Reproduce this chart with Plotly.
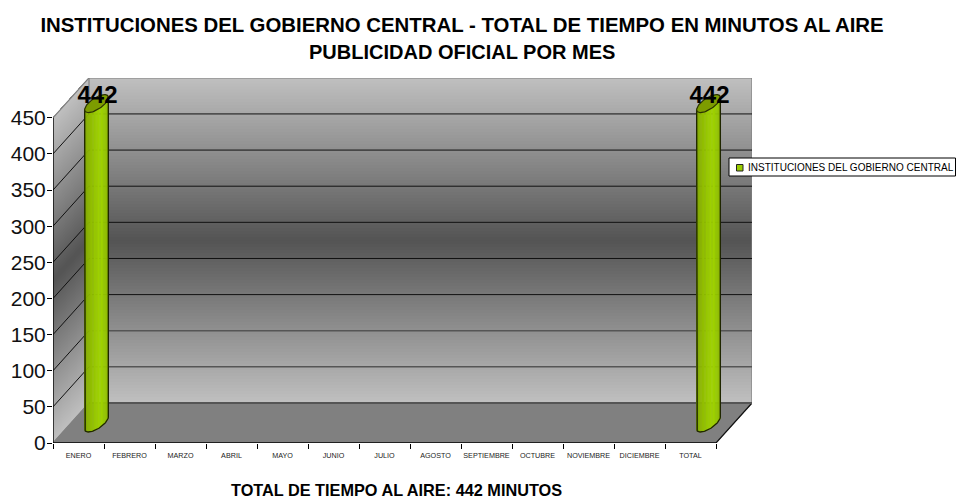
import math
import plotly.graph_objects as go

CATEGORIES = ["ENERO", "FEBRERO", "MARZO", "ABRIL", "MAYO", "JUNIO", "JULIO", "AGOSTO",
              "SEPTIEMBRE", "OCTUBRE", "NOVIEMBRE", "DICIEMBRE", "TOTAL"]
VALUES = [442, 0, 0, 0, 0, 0, 0, 0, 0, 0, 0, 0, 442]
Y_TICKS = [0, 50, 100, 150, 200, 250, 300, 350, 400, 450]
SERIES = "INSTITUCIONES DEL GOBIERNO CENTRAL"
TITLE_1 = "INSTITUCIONES DEL GOBIERNO CENTRAL - TOTAL DE TIEMPO EN MINUTOS AL AIRE"
TITLE_2 = "PUBLICIDAD OFICIAL POR MES"
FOOTER = "TOTAL DE TIEMPO AL AIRE: 442 MINUTOS"

W, H = 956, 498
ML, MR, MT, MB = 53, 204, 78, 55
PW, PH = W - ML - MR, H - MT - MB
N = len(CATEGORIES)
UX = 51.0
DX = 36 / UX            # depth vector in data units
YMAX_FRONT = 450
UY = (443 - 117.8) / YMAX_FRONT
DY = 40 / UY
X0, X1 = -0.5, N - 0.5
FONT = "Liberation Sans, Arial, sans-serif"


def lerp(a, b, t):
    return a + (b - a) * t


def rgb(c):
    return f"rgb({c[0]:.0f},{c[1]:.0f},{c[2]:.0f})"


def wall_color(t):
    """t=0 bottom of wall, t=1 top of wall: light, dark in the middle, light."""
    light_bot, dark, light_top = (192, 192, 192), (84, 84, 84), (192, 192, 192)
    if t < 0.5:
        s = t / 0.5
        return tuple(lerp(light_bot[i], dark[i], s) for i in range(3))
    s = (t - 0.5) / 0.5
    return tuple(lerp(dark[i], light_top[i], s) for i in range(3))


def poly(pts):
    return "M" + " L".join(f"{x:.4f},{y:.3f}" for x, y in pts) + " Z"


def px(x):
    return (x - ML) / PW


def py(y):
    return (443 - y) / PH


shapes = []
BANDS = 108
for k in range(BANDS):
    a = k / BANDS
    ya = a * YMAX_FRONT
    yt = YMAX_FRONT
    col = rgb(wall_color((k + 0.5) / BANDS))
    # each band runs up to the wall top and is overpainted by the next: no seams
    shapes.append(dict(type="path", layer="below", line=dict(width=0), fillcolor=col,
                       path=poly([(X0 + DX, ya + DY), (X1 + DX, ya + DY), (X1 + DX, yt + DY), (X0 + DX, yt + DY)])))
    shapes.append(dict(type="path", layer="below", line=dict(width=0), fillcolor=col,
                       path=poly([(X0, ya), (X0 + DX, ya + DY), (X0 + DX, yt + DY), (X0, yt)])))

# floor
shapes.append(dict(type="path", layer="below", fillcolor="#808080", line=dict(color="#808080", width=1),
                   path=poly([(X0, 0), (X1, 0), (X1 + DX, DY), (X0 + DX, DY)])))

# wall outline
GRAY = "#808080"
for p, q in [((X0 + DX, DY), (X0 + DX, YMAX_FRONT + DY)),
             ((X0 + DX, YMAX_FRONT + DY), (X1 + DX, YMAX_FRONT + DY)),
             ((X1 + DX, YMAX_FRONT + DY), (X1 + DX, DY)),
             ((X0, YMAX_FRONT), (X0 + DX, YMAX_FRONT + DY)),
             ((X0, 0), (X0 + DX, DY))]:
    shapes.append(dict(type="line", layer="below", x0=p[0], y0=p[1], x1=q[0], y1=q[1],
                       line=dict(color=GRAY, width=1.2)))
shapes.append(dict(type="line", layer="below", x0=X1, y0=0, x1=X1 + DX, y1=DY, line=dict(color="#111", width=1.2)))
shapes.append(dict(type="line", layer="below", x0=X0 + DX, y0=DY, x1=X1 + DX, y1=DY, line=dict(color="#555", width=2)))

# gridlines on walls
for v in Y_TICKS[1:-1]:
    c, w = ("#555", 1.5) if v <= 100 else ("#111", 1)
    shapes.append(dict(type="line", layer="below", x0=X0, y0=v, x1=X0 + DX, y1=v + DY, line=dict(color="#111", width=1)))
    shapes.append(dict(type="line", layer="below", x0=X0 + DX, y0=v + DY, x1=X1 + DX, y1=v + DY, line=dict(color=c, width=w)))

# axis lines
shapes.append(dict(type="line", layer="above", x0=X0, y0=0, x1=X1, y1=0, line=dict(color="#000", width=1.4)))
shapes.append(dict(type="line", layer="above", x0=X0, y0=0, x1=X0, y1=YMAX_FRONT, line=dict(color="#000", width=1.4)))

# legend box and swatch
shapes.append(dict(type="rect", xref="paper", yref="paper", layer="above",
                   x0=px(729), x1=px(955.5), y0=py(176), y1=py(158),
                   fillcolor="white", line=dict(color="#000", width=1)))
shapes.append(dict(type="rect", xref="paper", yref="paper", layer="above",
                   x0=px(736.5), x1=px(743), y0=py(171), y1=py(164.5),
                   fillcolor="#99cc00", line=dict(color="#222", width=1)))

fig = go.Figure()

RX = 8.66 / UX
RD = 0.225
STRIPS = 26
T0 = math.atan2(RD * DX * UX, RX * UX)


def ring(cx, cy, t):
    return (cx + RX * math.cos(t) + RD * DX * math.sin(t), cy + RD * DY * math.sin(t))


def green(s):
    """s=0 left silhouette, s=1 right silhouette."""
    stops = [(0.0, (100, 130, 0)), (0.2, (138, 178, 0)), (0.6, (160, 212, 0)),
             (0.8, (150, 198, 0)), (1.0, (122, 156, 0))]
    for (a, ca), (b, cb) in zip(stops, stops[1:]):
        if s <= b:
            u = (s - a) / (b - a)
            return tuple(lerp(ca[i], cb[i], u) for i in range(3))
    return stops[-1][1]


for i, v in enumerate(VALUES):
    if not v:
        continue
    cx = i + DX / 2
    cy = DY / 2
    for k in range(STRIPS):
        ta = T0 + math.pi + math.pi * k / STRIPS
        tb = T0 + math.pi + math.pi * (k + 1) / STRIPS
        ax, ay = ring(cx, cy, ta)
        bx, by = ring(cx, cy, tb)
        col = rgb(green((k + 0.5) / STRIPS))
        fig.add_trace(go.Scatter(x=[ax, bx, bx, ax, ax], y=[ay, by, by + v, ay + v, ay],
                                 mode="lines", fill="toself", fillcolor=col,
                                 line=dict(color=col, width=0.5), hoverinfo="skip", showlegend=False))
    arc = [ring(cx, cy, T0 + math.pi + math.pi * k / 40) for k in range(41)]
    lx, ly = arc[0]
    rx_, ry_ = arc[-1]
    fig.add_trace(go.Scatter(x=[lx] + [p[0] for p in arc] + [rx_],
                             y=[ly + v] + [p[1] for p in arc] + [ry_ + v],
                             mode="lines", line=dict(color="#1f2600", width=1.3),
                             hoverinfo="skip", showlegend=False))
    top = [ring(cx, cy + v, 2 * math.pi * k / 60) for k in range(61)]
    fig.add_trace(go.Scatter(x=[p[0] for p in top], y=[p[1] for p in top],
                             mode="lines", fill="toself", fillcolor="#7d9c00",
                             line=dict(color="#2b3300", width=1.2), hoverinfo="skip", showlegend=False))
    fig.add_trace(go.Scatter(x=[cx + 0.02], y=[v + cy + 9.5], mode="text", text=[str(v)],
                             textposition="middle center",
                             textfont=dict(family=FONT, size=24, color="#000", weight="bold"),
                             hoverinfo="skip", showlegend=False, cliponaxis=False))

fig.update_layout(
    width=W, height=H, autosize=False,
    margin=dict(l=ML, r=MR, t=MT, b=MB, pad=0),
    paper_bgcolor="white", plot_bgcolor="white",
    shapes=shapes,
    showlegend=False,
    title=dict(text=f"<b>{TITLE_1}</b>", x=462 / W, xanchor="center", y=1 - 24.5 / H, yanchor="middle",
               font=dict(family=FONT, size=20.4, color="#000")),
    annotations=[
        dict(text=f"<b>{TITLE_2}</b>", xref="paper", yref="paper", x=px(462), y=py(52.5),
             xanchor="center", yanchor="middle", showarrow=False, font=dict(family=FONT, size=20, color="#000")),
        dict(text=f"<b>{FOOTER}</b>", xref="paper", yref="paper", x=px(396.5), y=py(490),
             xanchor="center", yanchor="middle", showarrow=False, font=dict(family=FONT, size=16.3, color="#000")),
        dict(text=SERIES, xref="paper", yref="paper", x=px(747), y=py(167),
             xanchor="left", yanchor="middle", showarrow=False, borderpad=0, font=dict(family=FONT, size=10, color="#000")),
    ],
    xaxis=dict(range=[X0, X1 + DX], tickmode="array", tickvals=list(range(N)), ticktext=CATEGORIES, automargin=False,
               ticks="outside", ticklen=5, tickcolor="rgba(0,0,0,0)", tickfont=dict(family=FONT, size=7.2, color="#222"),
               showgrid=False, zeroline=False, showline=False, tickangle=0, fixedrange=True,
               minor=dict(tickmode="linear", tick0=-0.5, dtick=1, ticks="outside", ticklen=5,
                          tickcolor="#000", showgrid=False)),
    yaxis=dict(range=[0, PH / UY], tickmode="array", tickvals=Y_TICKS, ticks="outside", ticklen=5, automargin=False,
               ticklabelstandoff=-3,
               tickcolor="#000", tickfont=dict(family=FONT, size=21, color="#111"),
               showgrid=False, zeroline=False, showline=False, fixedrange=True),
)

fig.write_html("out.html", post_script="document.body.style.margin='0';", config={"displayModeBar": False})
